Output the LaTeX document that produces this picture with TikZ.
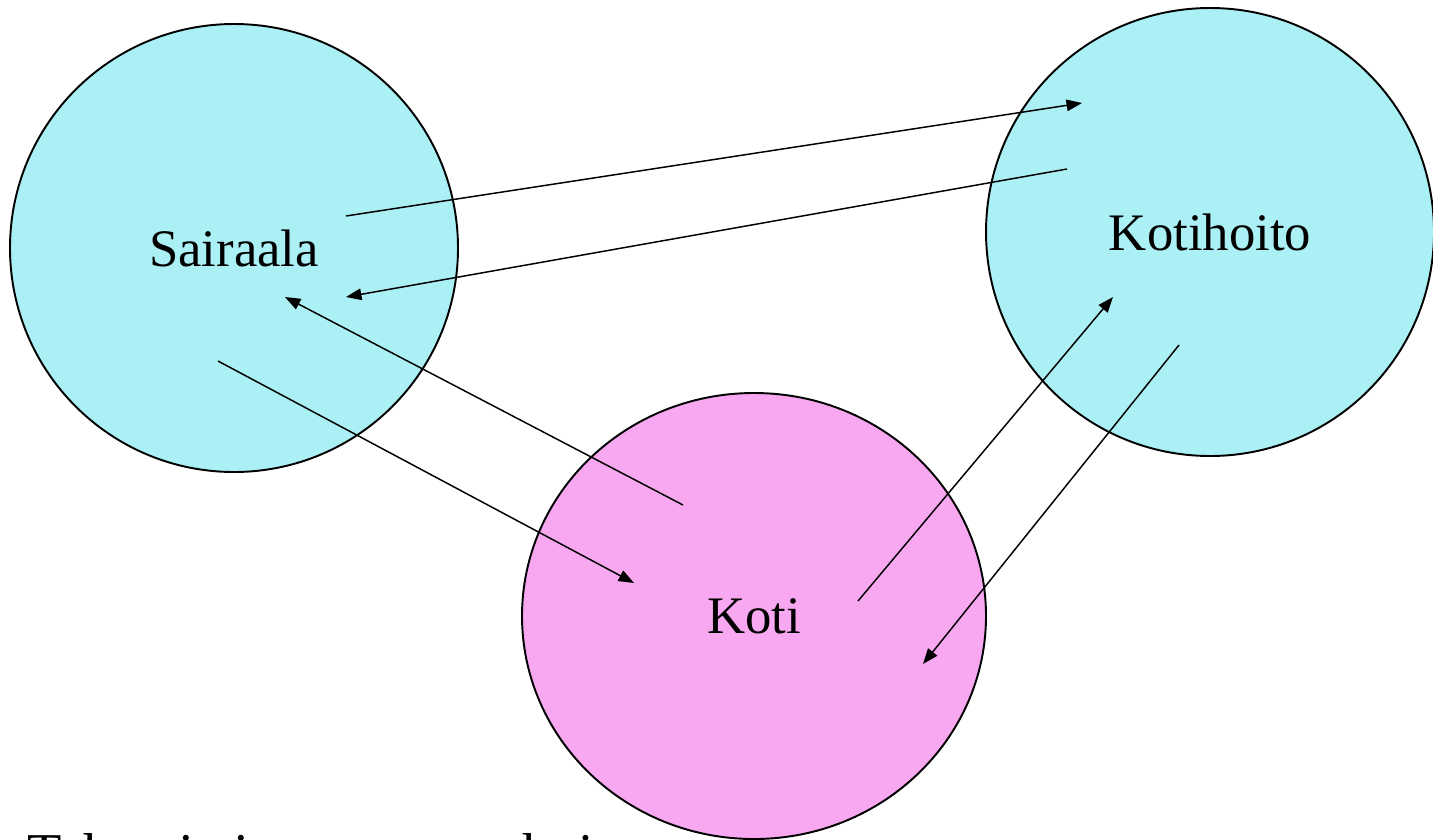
\documentclass[tikz,border=0pt]{standalone}
\usepackage{fontspec}
\setmainfont{Liberation Serif}
\usepackage{tikz}
\usetikzlibrary{positioning}
\usetikzlibrary{shapes.geometric,arrows.meta}
\definecolor{careCyan}{RGB}{170,240,245}
\definecolor{carePink}{RGB}{248,168,240}
\tikzset{
    careCircle/.style={
		circle, draw=black, line width=0.55pt, inner sep=0pt,
		minimum size=4.48cm, font=\fontsize{15}{18}\selectfont
	}
}
\tikzset{
    careEllipse/.style={
		ellipse, draw=black, line width=0.55pt, inner sep=0pt,
		minimum width=4.64cm, minimum height=4.46cm, font=\fontsize{15}{18}\selectfont
	}
}
\tikzset{
    flowArrow/.style={
		line width=0.42pt, -{Triangle[length=4.4pt,width=3.3pt]}
	}
}
\begin{document}
\begin{tikzpicture}
          \useasboundingbox (0,0) rectangle (14.33,8.39);
          \clip (0,0) rectangle (14.33,8.39);
          \node[careCircle, fill=careCyan] (sairaala) at (2.34,5.91) {Sairaala};
          \node[careCircle, fill=careCyan] (kotihoito) at (12.10,6.07) {Kotihoito};
          \node[careEllipse, fill=carePink] (koti) at (7.54,2.23) {Koti};
          % arrow ends
          \coordinate (s1) at (3.46,6.23);
          \coordinate (s2) at (3.46,5.42);
          \coordinate (s3) at (2.85,5.42);
          \coordinate (s4) at (2.18,4.78);
          \coordinate (h1) at (10.82,7.36);
          \coordinate (h2) at (10.67,6.70);
          \coordinate (h3) at (11.13,5.42);
          \coordinate (h4) at (11.79,4.94);
          \coordinate (k1) at (6.83,3.34);
          \coordinate (k2) at (6.34,2.56);
          \coordinate (k3) at (8.58,2.38);
          \coordinate (k4) at (9.23,1.75);
          \draw[flowArrow] (s1) -- (h1);
          \draw[flowArrow] (h2) -- (s2);
          \draw[flowArrow] (k1) -- (s3);
          \draw[flowArrow] (s4) -- (k2);
          \draw[flowArrow] (k3) -- (h3);
          \draw[flowArrow] (h4) -- (k4);
          % cut-off line at the bottom
          \node[anchor=base west, inner sep=0pt, font=\fontsize{16}{19}\selectfont] (caption) at (0.27,-0.33) {Tehoa ja joustavuutta hoitoon};
        \end{tikzpicture}
\end{document}
